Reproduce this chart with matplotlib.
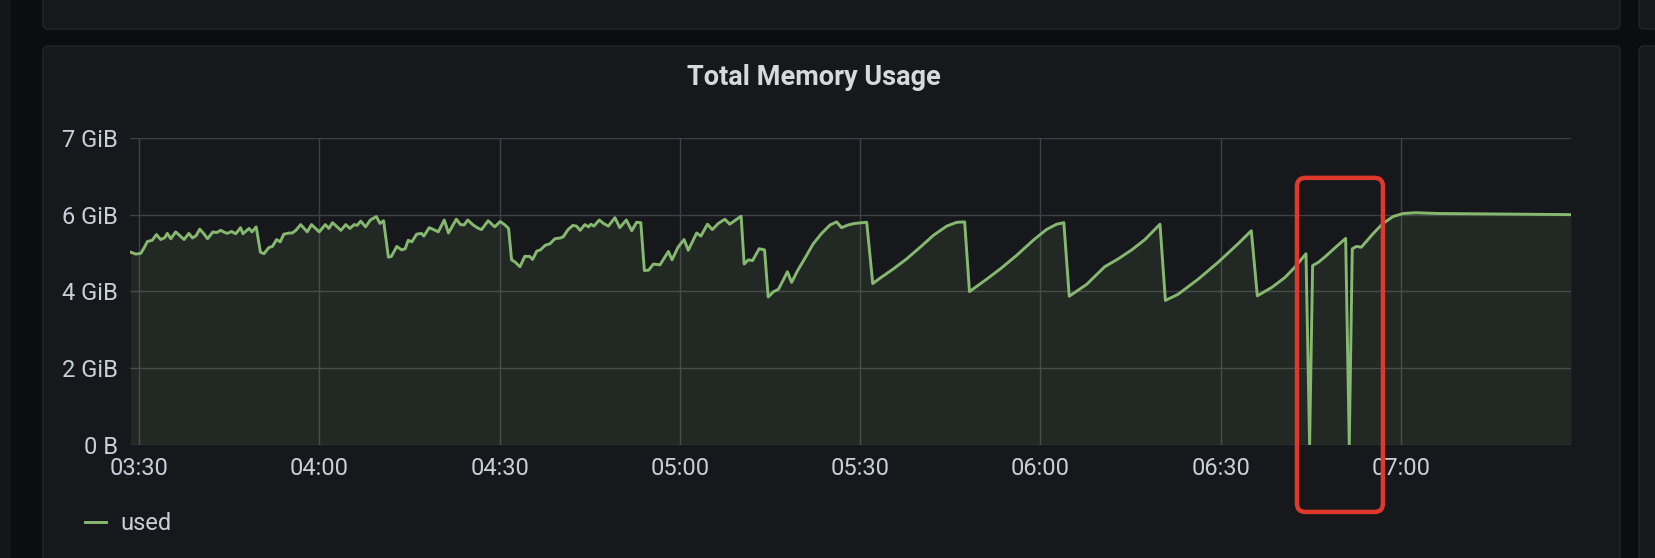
import matplotlib
matplotlib.use('Agg')
import matplotlib.pyplot as plt
from matplotlib.patches import FancyBboxPatch, Rectangle

plt.rcParams['font.family'] = ['Roboto', 'DejaVu Sans']

# minutes after 03:30, memory used in GB (1e9 bytes; axis labels are GiB, rounded like Grafana)
minutes = [
    -1.4, -0.5, 0.3, 0.9, 1.4, 2.2, 2.9, 3.6, 4.3, 4.7, 5.3, 6.1, 6.8, 7.5, 8.3, 8.9,
    9.5, 10.1, 10.8, 11.4, 12.3, 12.9, 13.6, 14.2, 14.7, 15.4, 16.1, 16.9, 17.3, 18.3,
    18.8, 19.5, 20.2, 20.8, 21.6, 22.2, 22.9, 23.5, 24.1, 25.0, 25.5, 26.1, 26.9, 28.0,
    28.7, 30.0, 31.0, 31.6, 32.2, 33.6, 34.4, 35.1, 35.8, 36.3, 36.9, 37.7, 38.5, 39.5,
    40.1, 40.7, 41.5, 42.0, 42.9, 43.7, 44.3, 44.8, 45.4, 46.2, 47.0, 47.4, 48.3, 49.3,
    49.8, 50.8, 51.5, 52.8, 53.5, 54.1, 54.7, 55.6, 56.5, 57.0, 58.1, 59.2, 60.1, 60.9,
    61.5, 62.0, 62.6, 63.4, 64.2, 65.0, 65.5, 66.2, 66.8, 67.6, 68.4, 69.2, 70.1, 70.6,
    71.4, 72.2, 72.8, 73.4, 74.2, 74.8, 75.2, 75.7, 76.6, 77.3, 78.1, 79.2, 80.0, 81.1,
    82.0, 82.8, 83.5, 84.1, 84.8, 85.6, 86.7, 88.1, 88.7, 89.7, 90.7, 91.4, 92.8, 93.5,
    94.6, 95.4, 96.4, 97.5, 98.3, 100.2, 100.7, 101.4, 102.1, 103.2, 104.1, 104.7, 105.6,
    106.4, 107.2, 107.9, 108.6, 109.6, 110.7, 112.2, 113.6, 115.0, 116.1, 116.9, 118.0,
    119.1, 121.1, 122.1, 123.3, 125.5, 127.7, 130.0, 132.2, 134.4, 136.1, 137.4, 138.2,
    141.1, 143.3, 146.0, 148.8, 151.0, 152.7, 153.9, 154.8, 157.7, 160.7, 162.9, 165.2,
    167.4, 169.9, 170.8, 172.9, 176.3, 179.6, 182.9, 185.1, 186.1, 188.5, 190.7, 192.3,
    194.2, 194.8, 195.3, 196.3, 197.3, 199.0, 200.8, 201.4, 201.9, 202.6, 203.4, 204.3,
    205.4, 207.0, 208.7, 210.4, 212.5, 216.0, 223.7, 238.3,
]
used_gb = [
    5.02, 4.97, 4.99, 5.15, 5.30, 5.33, 5.48, 5.35, 5.40, 5.51, 5.37, 5.55, 5.45, 5.35, 5.51, 5.39,
    5.45, 5.62, 5.50, 5.37, 5.55, 5.53, 5.59, 5.54, 5.51, 5.56, 5.50, 5.66, 5.50, 5.64,
    5.55, 5.68, 5.02, 4.98, 5.14, 5.17, 5.35, 5.29, 5.49, 5.52, 5.52, 5.59, 5.74, 5.55,
    5.74, 5.55, 5.74, 5.64, 5.79, 5.59, 5.74, 5.64, 5.74, 5.72, 5.83, 5.68, 5.86, 5.95,
    5.77, 5.84, 4.89, 4.91, 5.17, 5.08, 5.11, 5.33, 5.29, 5.49, 5.51, 5.44, 5.66, 5.59,
    5.55, 5.86, 5.52, 5.88, 5.74, 5.73, 5.86, 5.73, 5.64, 5.61, 5.84, 5.68, 5.82, 5.73,
    5.64, 4.82, 4.76, 4.64, 4.91, 4.91, 4.83, 5.05, 5.08, 5.20, 5.24, 5.37, 5.39, 5.42,
    5.61, 5.72, 5.70, 5.59, 5.74, 5.68, 5.75, 5.70, 5.86, 5.77, 5.70, 5.92, 5.66, 5.86,
    5.58, 5.80, 5.79, 4.54, 4.55, 4.71, 4.69, 5.04, 4.82, 5.15, 5.35, 5.07, 5.52, 5.44,
    5.75, 5.61, 5.77, 5.88, 5.75, 5.96, 4.71, 4.82, 4.80, 5.11, 5.08, 3.85, 3.99,
    4.05, 4.29, 4.51, 4.23, 4.54, 4.83, 5.24, 5.51, 5.73, 5.81, 5.66, 5.73,
    5.77, 5.80, 4.20, 4.34, 4.58, 4.84, 5.15, 5.46, 5.70, 5.80, 5.81, 3.99,
    4.32, 4.58, 4.93, 5.33, 5.61, 5.75, 5.79, 3.87, 4.18, 4.64, 4.84, 5.08,
    5.35, 5.75, 3.76, 3.92, 4.32, 4.76, 5.24, 5.58, 3.88, 4.10, 4.36, 4.62,
    4.98, 0.00, 4.67, 4.76, 4.89, 5.13, 5.38, 0.00, 5.11, 5.17, 5.15, 5.31,
    5.51, 5.77, 5.95, 6.03, 6.05, 6.03, 6.02, 6.00,
]

x_ticks = [0, 30, 60, 90, 120, 150, 180, 210]
x_labels = ['03:30', '04:00', '04:30', '05:00', '05:30', '06:00', '06:30', '07:00']
y_ticks = [0, 2, 4, 6, 8]
y_labels = ['0 B', '2 GiB', '4 GiB', '6 GiB', '7 GiB']

# red highlight drawn around the two drops (minutes, GB)
box_t = (192.7, 207.0)
box_v = (-1.76, 6.96)

W, H = 1656, 558
line_color = '#86b870'
panel = '#17181c'
text_color = '#c7d0d9'

fig = plt.figure(figsize=(W / 100, H / 100), dpi=100, facecolor='#0c0d10')

# dashboard background: panels in pixel coordinates
bg = fig.add_axes([0, 0, 1, 1], zorder=0)
bg.set_xlim(0, W)
bg.set_ylim(H, 0)
bg.axis('off')
bg.add_patch(Rectangle((0, 0), 10, H, color='#151619'))
for (x0, y0, x1, y1) in [(43, -20, 1620, 29), (43, 46, 1620, 600),
                         (1639, -20, 1720, 29), (1639, 46, 1720, 600)]:
    bg.add_patch(FancyBboxPatch((x0, y0), x1 - x0, y1 - y0,
                                boxstyle='round,pad=0,rounding_size=5',
                                facecolor=panel, edgecolor='#24252a', lw=1))

ax = fig.add_axes([130 / W, 113.5 / H, 1441 / W, 306.5 / H], zorder=1)
ax.set_facecolor('none')
ax.plot(minutes, used_gb, color=line_color, lw=2.1)
ax.fill_between(minutes, used_gb, 0, color=line_color, alpha=0.1, lw=0)
ax.set_xlim(-1.5, 238.3)
ax.set_ylim(0, 8)
ax.set_xticks(x_ticks, x_labels)
ax.set_yticks(y_ticks, y_labels)
ax.grid(True, color='#404146', lw=1.0)
ax.set_axisbelow(True)
for s in ax.spines.values():
    s.set_visible(False)
ax.tick_params(length=0, labelsize=17, labelcolor=text_color)
ax.tick_params(axis='y', pad=8.5)
ax.tick_params(axis='x', pad=9)

asp = (1 / 38.33) / (1 / 6.01)
ax.add_patch(FancyBboxPatch((box_t[0], box_v[0]), box_t[1] - box_t[0], box_v[1] - box_v[0],
                            boxstyle='round,pad=0,rounding_size=1.4', mutation_aspect=asp,
                            facecolor='none', edgecolor='#e0392b', lw=3.2,
                            clip_on=False, zorder=5))

fig.text(814 / W, 1 - 77.5 / H, 'Total Memory Usage', ha='center', va='center',
         fontsize=19.5, fontweight='semibold', color='#d8d9da')

leg = ax.legend(['used'], loc='center left', bbox_to_anchor=(85 / W, 1 - 524 / H),
                bbox_transform=fig.transFigure, frameon=False, fontsize=17,
                handlelength=0.9, handletextpad=0.6, borderpad=0, borderaxespad=0)
for t in leg.get_texts():
    t.set_color(text_color)

fig.savefig('out.png', dpi=100, facecolor=fig.get_facecolor())
